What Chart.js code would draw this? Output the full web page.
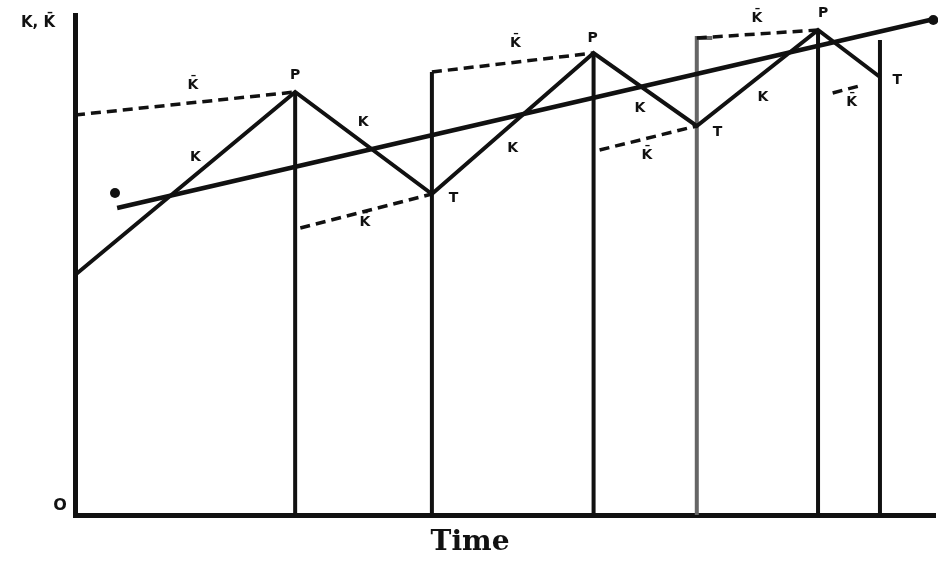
<!DOCTYPE html>
<html>
<head>
<meta charset="utf-8">
<script src="https://cdn.jsdelivr.net/npm/chart.js@4.4.1/dist/chart.umd.min.js"></script>
<style>
  html, body { margin: 0; padding: 0; background: #ffffff; }
  #wrap { width: 938px; height: 566px; position: relative; }
</style>
</head>
<body>
<div id="wrap"><canvas id="c" width="938" height="566"></canvas></div>
<script>
// ---- Data (time units 0-100, level units 0-100) ----
// Actual capital stock K at turning points (start, P, T, P, T, P, T)
const cycleTimes   = [0, 25.6, 41.5, 60.3, 72.3, 86.4, 93.6];
const capitalK     = [48, 84.6, 64.2, 92.4, 77.8, 97, 87.6];

// Trend line
const trendTimes   = [4.9, 99.4];
const trendLevels  = [61.4, 99];

// Desired capital K-bar segments (start / end)
const desiredStartTimes  = [0, 26.2, 41.5, 61.0, 72.3, 88.1];
const desiredStartLevels = [80, 57.4, 88.6, 73, 95.4, 84.4];
const desiredEndTimes    = [25.6, 41.5, 60.3, 72.3, 86.4, 91.6];
const desiredEndLevels   = [84.6, 64.2, 92.4, 77.8, 97, 86];

// Vertical period dividers
const dividerTimes  = [25.6, 41.5, 60.3, 72.3, 86.4, 93.6];
const dividerTops   = [84.6, 88.6, 92.4, 95.4, 97, 95];

// End markers of the trend line
const markerTimes   = [4.65, 99.8];
const markerLevels  = [64.4, 99];

// Text labels on the diagram
const labelTexts  = ['K\u0304','P','K','K','K\u0304','T','K','K\u0304','P','K','T','K\u0304','K\u0304','P','K','T','K\u0304'];
const labelTimes  = [13.7, 25.6, 14, 33.5, 33.7, 44, 50.9, 51.2, 60.2, 65.7, 74.7, 66.5, 79.3, 87, 80, 95.6, 90.3];
const labelLevels = [86, 88, 71.6, 78.6, 58.6, 63.4, 73.4, 94.4, 95.4, 81.4, 76.6, 72, 99.4, 100.4, 83.6, 87, 82.6];

const axisTitleX = 'Time';
const axisTitleY = 'K, K\u0304';
const originLabel = 'O';

// ---- Build datasets ----
function pairs(xs, ys) { return xs.map((x, i) => ({ x: x, y: ys[i] })); }

const desiredPts = [];
desiredStartTimes.forEach((t, i) => {
  desiredPts.push({ x: t, y: desiredStartLevels[i] });
  desiredPts.push({ x: desiredEndTimes[i], y: desiredEndLevels[i] });
  desiredPts.push({ x: desiredEndTimes[i], y: null });
});

const dividerPts = [];
const greyDividerPts = [];
dividerTimes.forEach((t, i) => {
  const target = (i === 3) ? greyDividerPts : dividerPts;
  target.push({ x: t, y: 0 });
  target.push({ x: t, y: dividerTops[i] });
  if (i === 3) target.push({ x: t + 1.8, y: dividerTops[i] });
  target.push({ x: t, y: null });
});

const labelPlugin = {
  id: 'labels',
  afterDatasetsDraw(chart) {
    const { ctx, scales: { x, y }, chartArea } = chart;
    ctx.save();
    ctx.fillStyle = '#111';
    ctx.textAlign = 'center';
    ctx.textBaseline = 'middle';
    ctx.font = 'bold 14px "DejaVu Sans"';
    labelTexts.forEach((txt, i) => {
      ctx.fillText(txt, x.getPixelForValue(labelTimes[i]), y.getPixelForValue(labelLevels[i]));
    });
    // markers
    markerTimes.forEach((t, i) => {
      ctx.beginPath();
      ctx.arc(x.getPixelForValue(t), y.getPixelForValue(markerLevels[i]), 5, 0, Math.PI * 2);
      ctx.fill();
    });
    // axis texts
    ctx.font = 'bold 15px "DejaVu Sans"';
    ctx.fillText(axisTitleY, chartArea.left - 37, chartArea.top + 8);
    ctx.font = 'bold 16px "DejaVu Sans"';
    ctx.fillText(originLabel, chartArea.left - 15, chartArea.bottom - 9);
    ctx.font = 'bold 28px "DejaVu Serif"';
    ctx.fillText(axisTitleX, 470, 543);
    ctx.restore();
  }
};

new Chart(document.getElementById('c'), {
  type: 'scatter',
  data: {
    datasets: [
      { label: 'K', data: pairs(cycleTimes, capitalK), showLine: true, borderColor: '#111', borderWidth: 4, pointRadius: 0, tension: 0 },
      { label: 'Trend', data: pairs(trendTimes, trendLevels), showLine: true, borderColor: '#111', borderWidth: 4.5, pointRadius: 0 },
      { label: 'K-bar', data: desiredPts, showLine: true, spanGaps: false, borderColor: '#111', borderWidth: 3.5, borderDash: [10, 6], pointRadius: 0 },
      { label: 'Dividers', data: dividerPts, showLine: true, spanGaps: false, borderColor: '#111', borderWidth: 4, pointRadius: 0 },
      { label: 'Divider grey', data: greyDividerPts, showLine: true, spanGaps: false, borderColor: '#666', borderWidth: 4, pointRadius: 0 }
    ]
  },
  options: {
    responsive: false,
    animation: false,
    layout: { padding: { left: 75, right: 3, top: 15, bottom: 51 } },
    plugins: { legend: { display: false }, tooltip: { enabled: false } },
    scales: {
      x: {
        type: 'linear', min: 0, max: 100,
        grid: { display: false, drawTicks: false },
        ticks: { display: false },
        border: { display: true, color: '#111', width: 5 }
      },
      y: {
        type: 'linear', min: 0, max: 100,
        grid: { display: false, drawTicks: false },
        ticks: { display: false },
        border: { display: true, color: '#111', width: 5 }
      }
    }
  },
  plugins: [labelPlugin]
});
</script>
</body>
</html>
